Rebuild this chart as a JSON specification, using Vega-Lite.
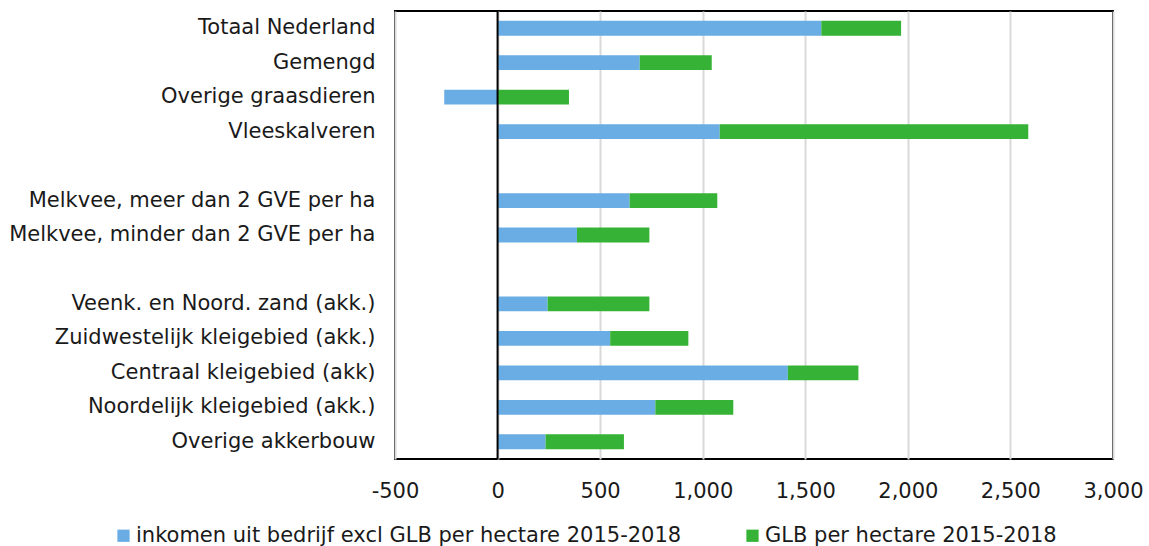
{
  "$schema": "https://vega.github.io/schema/vega-lite/v6.json",
  "width": 718,
  "height": 448,
  "autosize": {"type": "none"},
  "padding": {"left": 395, "top": 11, "right": 36, "bottom": 87},
  "background": "white",
  "config": {
    "font": "DejaVu Sans",
    "view": {"stroke": "#000000", "strokeWidth": 2},
    "axis": {"labelFont": "DejaVu Sans", "labelFontSize": 21, "labelColor": "#1a1a1a", "labelLimit": 500}
  },
  "data": {
    "values": [
      {"cat": "Totaal Nederland", "serie": "inkomen uit bedrijf excl GLB per hectare 2015-2018", "o": 1, "v": 1578},
      {"cat": "Totaal Nederland", "serie": "GLB per hectare 2015-2018", "o": 2, "v": 389},
      {"cat": "Gemengd", "serie": "inkomen uit bedrijf excl GLB per hectare 2015-2018", "o": 1, "v": 693},
      {"cat": "Gemengd", "serie": "GLB per hectare 2015-2018", "o": 2, "v": 351},
      {"cat": "Overige graasdieren", "serie": "inkomen uit bedrijf excl GLB per hectare 2015-2018", "o": 1, "v": -260},
      {"cat": "Overige graasdieren", "serie": "GLB per hectare 2015-2018", "o": 2, "v": 348},
      {"cat": "Vleeskalveren", "serie": "inkomen uit bedrijf excl GLB per hectare 2015-2018", "o": 1, "v": 1083},
      {"cat": "Vleeskalveren", "serie": "GLB per hectare 2015-2018", "o": 2, "v": 1504},
      {"cat": "Melkvee, meer dan 2 GVE per ha", "serie": "inkomen uit bedrijf excl GLB per hectare 2015-2018", "o": 1, "v": 644},
      {"cat": "Melkvee, meer dan 2 GVE per ha", "serie": "GLB per hectare 2015-2018", "o": 2, "v": 427},
      {"cat": "Melkvee, minder dan 2 GVE per ha", "serie": "inkomen uit bedrijf excl GLB per hectare 2015-2018", "o": 1, "v": 387},
      {"cat": "Melkvee, minder dan 2 GVE per ha", "serie": "GLB per hectare 2015-2018", "o": 2, "v": 353},
      {"cat": "Veenk. en Noord. zand (akk.)", "serie": "inkomen uit bedrijf excl GLB per hectare 2015-2018", "o": 1, "v": 244},
      {"cat": "Veenk. en Noord. zand (akk.)", "serie": "GLB per hectare 2015-2018", "o": 2, "v": 496},
      {"cat": "Zuidwestelijk kleigebied (akk.)", "serie": "inkomen uit bedrijf excl GLB per hectare 2015-2018", "o": 1, "v": 549},
      {"cat": "Zuidwestelijk kleigebied (akk.)", "serie": "GLB per hectare 2015-2018", "o": 2, "v": 381},
      {"cat": "Centraal kleigebied (akk)", "serie": "inkomen uit bedrijf excl GLB per hectare 2015-2018", "o": 1, "v": 1415},
      {"cat": "Centraal kleigebied (akk)", "serie": "GLB per hectare 2015-2018", "o": 2, "v": 344},
      {"cat": "Noordelijk kleigebied (akk.)", "serie": "inkomen uit bedrijf excl GLB per hectare 2015-2018", "o": 1, "v": 769},
      {"cat": "Noordelijk kleigebied (akk.)", "serie": "GLB per hectare 2015-2018", "o": 2, "v": 380},
      {"cat": "Overige akkerbouw", "serie": "inkomen uit bedrijf excl GLB per hectare 2015-2018", "o": 1, "v": 234},
      {"cat": "Overige akkerbouw", "serie": "GLB per hectare 2015-2018", "o": 2, "v": 382}
    ]
  },
  "layer": [
    {
      "mark": {"type": "bar"},
      "encoding": {
        "y": {
          "field": "cat",
          "type": "nominal",
          "scale": {
            "domain": ["Totaal Nederland", "Gemengd", "Overige graasdieren", "Vleeskalveren", " ", "Melkvee, meer dan 2 GVE per ha", "Melkvee, minder dan 2 GVE per ha", "  ", "Veenk. en Noord. zand (akk.)", "Zuidwestelijk kleigebied (akk.)", "Centraal kleigebied (akk)", "Noordelijk kleigebied (akk.)", "Overige akkerbouw"],
            "paddingInner": 0.57,
            "paddingOuter": 0.285
          },
          "axis": {"title": null, "ticks": false, "domain": false, "labelPadding": 20, "grid": false}
        },
        "x": {
          "field": "v",
          "type": "quantitative",
          "stack": "zero",
          "scale": {"domain": [-500, 3000], "nice": false, "zero": false},
          "axis": {
            "title": null,
            "values": [-500, 0, 500, 1000, 1500, 2000, 2500, 3000],
            "format": ",d",
            "labelExpr": "datum.value < 0 ? '-' + format(-datum.value, ',d') : datum.label",
            "labelFlush": false,
            "labelOverlap": false,
            "ticks": false,
            "domain": false,
            "labelPadding": 21,
            "grid": true,
            "gridColor": "#d9d9d9",
            "gridWidth": 2
          }
        },
        "color": {
          "field": "serie",
          "type": "nominal",
          "scale": {
            "domain": ["inkomen uit bedrijf excl GLB per hectare 2015-2018", "GLB per hectare 2015-2018"],
            "range": ["#6aade4", "#36b336"]
          },
          "legend": {
            "title": null,
            "orient": "none",
            "legendX": -282,
            "legendY": 514,
            "direction": "horizontal",
            "columns": 2,
            "symbolType": "square",
            "symbolSize": 150,
            "symbolStrokeWidth": 0,
            "labelFontSize": 21,
            "labelFont": "DejaVu Sans",
            "labelColor": "#1a1a1a",
            "labelOffset": 2,
            "columnPadding": 60,
            "labelLimit": 800
          }
        },
        "order": {"field": "o", "type": "quantitative"}
      }
    },
    {
      "data": {"values": [{"z": 0}]},
      "mark": {"type": "rule", "color": "#000000", "strokeWidth": 2},
      "encoding": {"x": {"field": "z", "type": "quantitative"}}
    }
  ]
}
